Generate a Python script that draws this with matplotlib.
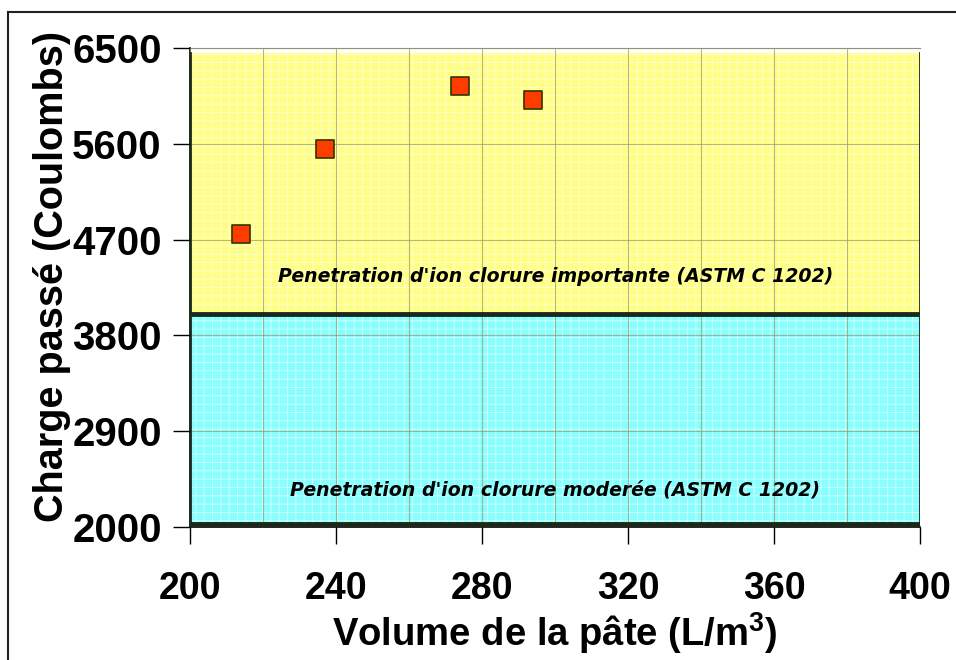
import matplotlib
matplotlib.use('Agg')
import matplotlib.pyplot as plt
from matplotlib.patches import Rectangle
from matplotlib.lines import Line2D
import numpy as np

plt.rcParams['font.family'] = ['Liberation Sans', 'DejaVu Sans']
plt.rcParams['hatch.linewidth'] = 0.6

# Data
volume = [214, 237, 274, 294]         # L/m3
charge = [4755, 5550, 6140, 6010]      # Coulombs

# Zones (ASTM C 1202)
zone_high = (4000, 6450)
zone_mod = (2030, 4000)
label_high = "Penetration d'ion clorure importante (ASTM C 1202)"
label_mod = "Penetration d'ion clorure moderée (ASTM C 1202)"

xticks = [200, 240, 280, 320, 360, 400]
yticks = [2000, 2900, 3800, 4700, 5600, 6500]

fig = plt.figure(figsize=(9.56, 6.60), dpi=100)
ax = fig.add_axes([0.199, 0.2015, 0.7636, 0.7258])

# frame around the chart (top and left only visible)
fig.add_artist(Line2D([8/956, 8/956], [0, 1 - 12/660], color='#222222', lw=1.5,
                      transform=fig.transFigure))
fig.add_artist(Line2D([8/956, 1], [1 - 12/660, 1 - 12/660], color='#222222', lw=1.5,
                      transform=fig.transFigure))

# zones
ax.add_patch(Rectangle((200, zone_high[0]), 200, zone_high[1] - zone_high[0],
                       facecolor='#FFFF88', edgecolor='#FFFFD0', hatch='++',
                       lw=0, zorder=0))
ax.add_patch(Rectangle((200, zone_mod[0]), 200, zone_mod[1] - zone_mod[0],
                       facecolor='#88FFFF', edgecolor='#D8FFFF', hatch='++',
                       lw=0, zorder=0))
# dark shadow borders
for lo, hi in (zone_high, zone_mod):
    ax.plot([200, 200], [lo, hi], color='#1a2a1a', lw=2, zorder=3)
    ax.plot([400, 400], [lo, hi], color='#1a2a1a', lw=2, zorder=3)
    ax.plot([200, 400], [lo, lo], color='#1a2a1a', lw=3.5, zorder=3)

ax.grid(True, color='#999966', lw=0.8, alpha=0.7, zorder=1)
ax.set_axisbelow(False)
ax.set_xticks(np.arange(200, 401, 20), minor=True)
ax.grid(True, which='minor', axis='x', color='#999966', lw=0.8, alpha=0.7)

ax.scatter(volume, charge, marker='s', s=150, facecolor='#FF3C00',
           edgecolor='#333300', linewidth=1.2, zorder=5)

ax.text(300, 4350, label_high, ha='center', va='center', fontsize=13.6,
        family='DejaVu Sans', fontweight='bold', fontstyle='italic', zorder=6)
ax.text(300, 2350, label_mod, ha='center', va='center', fontsize=13.6,
        family='DejaVu Sans', fontweight='bold', fontstyle='italic', zorder=6)

ax.set_xlim(200, 400)
ax.set_ylim(2000, 6500)
ax.set_xticks(xticks)
ax.set_yticks(yticks)
ax.tick_params(axis='both', which='major', direction='out', length=12, width=1)
ax.tick_params(axis='x', which='major', labelsize=27, pad=20)
ax.tick_params(axis='y', which='major', labelsize=29, pad=8.5)
ax.tick_params(axis='x', which='minor', length=0)
for lab in ax.get_xticklabels() + ax.get_yticklabels():
    lab.set_fontweight('bold')

ax.spines['right'].set_visible(False)
ax.spines['top'].set_color('#888888')
ax.spines['left'].set_linewidth(1.2)
ax.spines['bottom'].set_linewidth(1.2)

ax.set_xlabel('Volume de la pâte (L/m$^\\mathregular{3}$)', fontsize=27.5,
              fontweight='bold', labelpad=2)
ax.set_ylabel('Charge passé (Coulombs)', fontsize=28.5, fontweight='bold',
              va='center')
ax.yaxis.set_label_coords(-0.19, 0.524)

fig.savefig('out.png', dpi=100)
